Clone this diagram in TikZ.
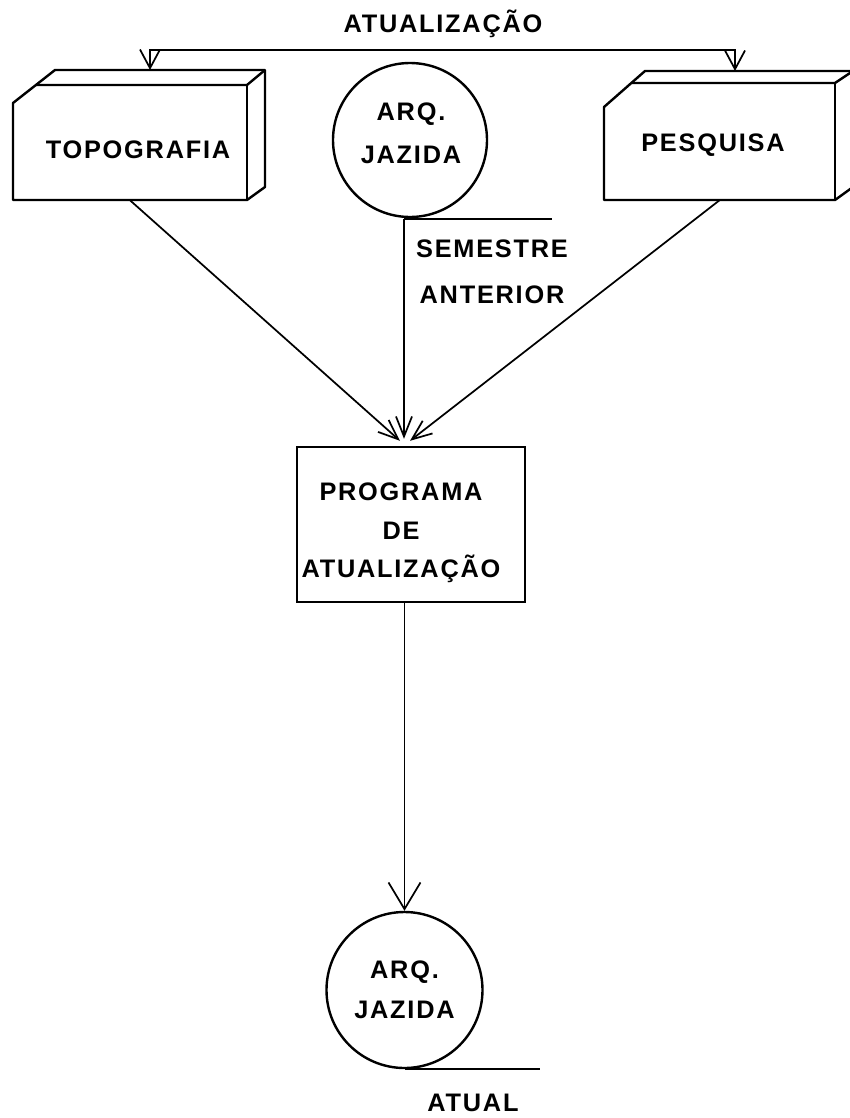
\documentclass[tikz,border=0pt]{standalone}
\usepackage{fontspec}
\setmainfont{Liberation Sans}[LetterSpace=7]
\usetikzlibrary{arrows.meta,calc}
\begin{document}
\begin{tikzpicture}[x=0.75pt,y=-0.75pt,
  solid3d/.style={line width=1.8pt, line join=round},
  conn/.style={line width=1.3pt},
  lbl/.style={font=\bfseries\fontsize{19}{32}\selectfont, align=center, inner sep=0pt},
  tipS/.style={-{Straight Barb[length=15pt,width=12pt]}},
  tipT/.style={{Straight Barb[length=14pt,width=15pt]}-{Straight Barb[length=14pt,width=15pt]}},
  tipL/.style={-{Straight Barb[length=20pt,width=24pt]}},
  face/.style={draw=none, inner sep=0pt}
 ]
\useasboundingbox[fill=white] (0,0) rectangle (850,1118);

% --- TOPOGRAFIA (3D block)
\node[face, minimum width=175.5pt, minimum height=86.25pt] (topo) at (130,142.5) {};
\draw[solid3d] (13,200) -- (13,103) -- (55,70) -- (265,70) -- (265,187) -- (247,200) -- cycle;
\draw[solid3d] (36,85) -- (247,85) -- (265,70);
\draw[solid3d] (247,85) -- (247,200);
\node[lbl] (topotxt) at (138,150) {TOPOGRAFIA};

% --- PESQUISA (3D block)
\node[face, minimum width=173.25pt, minimum height=87.75pt] (pes) at (719.5,141.5) {};
\draw[solid3d] (604,200) -- (604,107) -- (645,71) -- (853,71) -- (853,187) -- (835,200) -- cycle;
\draw[solid3d] (631,83) -- (835,83) -- (853,71);
\draw[solid3d] (835,83) -- (835,200);
\node[lbl] (pestxt) at (713,145) {PESQUISA};

% --- top update line
\coordinate (tA) at (150,70);
\coordinate (tB) at (735,71);
\draw[conn, tipT] (tA) -- ++(0,-20) -| (tB);
\node[lbl] (atop) at (443,24) {ATUALIZAÇÃO};

% --- ARQ. JAZIDA (previous semester)
\node[draw, circle, line width=1.8pt, minimum size=115.5pt, inner sep=0pt] (arq1) at (410,140) {};
\node[lbl] (arq1txt) at (411,133) {ARQ.\\JAZIDA};
\coordinate (j1) at (404,219);
\draw[solid3d] (j1) -- ++(148,0);
\node[lbl, font=\bfseries\fontsize{19}{34.5}\selectfont] (sem) at (492,272) {SEMESTRE\\ANTERIOR};

% --- PROGRAMA DE ATUALIZAÇÃO
\node[draw, line width=1.8pt, minimum width=171pt, minimum height=116.25pt, inner sep=0pt] (prog) at (411,524.5) {};
\node[lbl, font=\bfseries\fontsize{19}{29}\selectfont] (progtxt) at (401,533) {PROGRAMA\\DE\\ATUALIZAÇÃO};

% --- converging connectors
\draw[conn, tipS] (topo.south) -- ($(prog.north)+(-11,-5)$);
\draw[conn, tipS] (pes.south) -- ($(prog.north)+(-1,-5)$);
\draw[conn, tipS] (j1) -- ($(prog.north)+(-7,-7)$);

% --- ARQ. JAZIDA (current)
\node[draw, circle, line width=1.8pt, minimum size=117pt, inner sep=0pt,
      font=\bfseries\fontsize{19}{30}\selectfont, align=center] (arq2) at (404.5,990) {ARQ.\\JAZIDA};
\draw[conn, tipL] (prog.south -| arq2.north) -- (arq2.north);
\draw[solid3d] (arq2.south) -- ++(135,0);
\node[lbl] (atual) at (473,1103) {ATUAL};
\end{tikzpicture}
\end{document}
